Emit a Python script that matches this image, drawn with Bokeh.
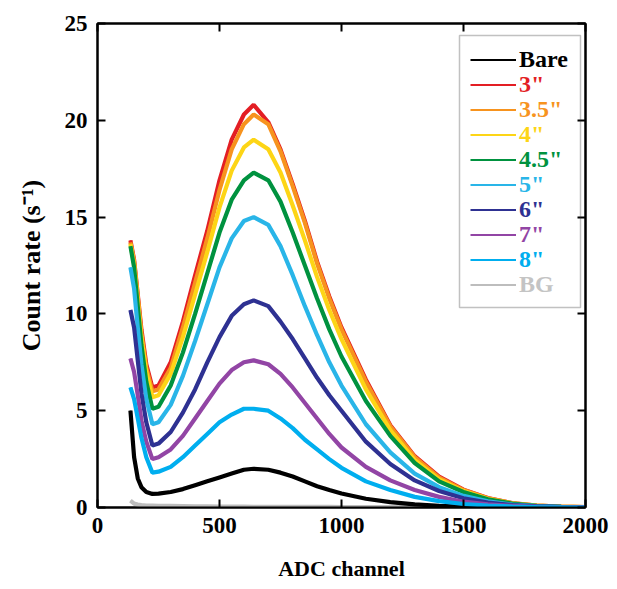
from bokeh.plotting import figure
from bokeh.models import (Range1d, LinearAxis, FixedTicker, Legend, LegendItem,
                          BoxAnnotation, CustomJSTickFormatter, ColumnDataSource)
from bokeh.embed import file_html
from bokeh.resources import INLINE

# ---------------- data ----------------
channels = [135, 150, 165, 180, 200, 225, 250, 300, 350, 400, 450, 500, 550, 600, 640,
            700, 750, 800, 850, 900, 950, 1000, 1100, 1200, 1300, 1400, 1500, 1600,
            1700, 1800, 1900, 2000]

bare = [5.0, 2.6, 1.5, 1.05, 0.8, 0.7, 0.72, 0.8, 0.95, 1.15, 1.35, 1.55, 1.75, 1.95, 2.0,
        1.95, 1.8, 1.6, 1.35, 1.1, 0.9, 0.72, 0.45, 0.28, 0.16, 0.09, 0.05, 0.02, 0.01, 0.0, 0.0, 0.0]
in3 = [13.8, 12.8, 11.0, 9.2, 7.4, 6.2, 6.3, 7.5, 9.6, 12.0, 14.3, 16.9, 19.0, 20.3, 20.8,
       19.9, 18.5, 16.7, 14.8, 12.7, 10.9, 9.3, 6.6, 4.25, 2.65, 1.6, 0.92, 0.49, 0.23, 0.1, 0.05, 0.02]
in35 = [13.7, 12.7, 10.9, 9.0, 7.2, 6.0, 6.1, 7.2, 9.3, 11.6, 13.9, 16.4, 18.5, 19.8, 20.3,
        19.8, 18.4, 16.6, 14.7, 12.6, 10.8, 9.2, 6.5, 4.2, 2.6, 1.55, 0.9, 0.48, 0.22, 0.1, 0.05, 0.02]
in4 = [13.6, 12.6, 10.7, 8.8, 7.0, 5.7, 5.8, 6.9, 8.8, 11.0, 13.2, 15.5, 17.4, 18.6, 19.0,
       18.5, 17.3, 15.6, 13.8, 11.9, 10.2, 8.7, 6.1, 4.0, 2.45, 1.45, 0.85, 0.45, 0.21, 0.1, 0.05, 0.02]
in45 = [13.5, 12.4, 10.4, 8.4, 6.5, 5.1, 5.2, 6.3, 8.0, 10.0, 12.1, 14.2, 15.9, 16.9, 17.3,
        16.9, 15.8, 14.2, 12.5, 10.8, 9.2, 7.8, 5.5, 3.7, 2.3, 1.35, 0.8, 0.42, 0.2, 0.09, 0.04, 0.02]
in5 = [12.4, 11.3, 9.3, 7.4, 5.6, 4.3, 4.4, 5.3, 6.8, 8.6, 10.5, 12.4, 13.9, 14.8, 15.0,
       14.6, 13.5, 12.0, 10.4, 8.9, 7.5, 6.3, 4.3, 2.85, 1.75, 1.05, 0.6, 0.32, 0.15, 0.07, 0.03, 0.01]
in6 = [10.2, 9.3, 7.6, 5.9, 4.4, 3.2, 3.3, 3.9, 4.9, 6.1, 7.5, 8.8, 9.9, 10.5, 10.7,
       10.4, 9.6, 8.7, 7.7, 6.7, 5.8, 5.0, 3.4, 2.25, 1.4, 0.85, 0.48, 0.25, 0.12, 0.06, 0.03, 0.01]
in7 = [7.7, 7.0, 5.8, 4.5, 3.4, 2.5, 2.6, 3.0, 3.7, 4.6, 5.5, 6.4, 7.1, 7.5, 7.6,
       7.4, 6.9, 6.2, 5.4, 4.6, 3.8, 3.1, 2.1, 1.4, 0.9, 0.55, 0.3, 0.16, 0.08, 0.04, 0.02, 0.01]
in8 = [6.2, 5.6, 4.6, 3.6, 2.6, 1.8, 1.85, 2.1, 2.6, 3.2, 3.8, 4.4, 4.8, 5.1, 5.1,
       5.0, 4.6, 4.1, 3.5, 3.0, 2.5, 2.05, 1.35, 0.9, 0.55, 0.33, 0.18, 0.1, 0.05, 0.02, 0.01, 0.0]
bg = [0.35, 0.2, 0.15, 0.12, 0.1, 0.1, 0.09, 0.08, 0.07, 0.06, 0.06, 0.05, 0.05, 0.05, 0.04,
      0.04, 0.04, 0.03, 0.03, 0.03, 0.03, 0.02, 0.02, 0.02, 0.02, 0.01, 0.01, 0.01, 0.01, 0.01, 0.01, 0.01]

labels = ['Bare', '3"', '3.5"', '4"', '4.5"', '5"', '6"', '7"', '8"', 'BG']
series = [bare, in3, in35, in4, in45, in5, in6, in7, in8, bg]
colors = ['#000000', '#e31e24', '#f7931e', '#fdd516', '#00923f', '#29b5e8',
          '#2e3192', '#9245a5', '#00aeef', '#bdbdbd']
text_colors = ['#000000', '#e31e24', '#f7931e', '#fdd516', '#00923f', '#29b5e8',
               '#2e3192', '#9245a5', '#00aeef', '#c4c4c4']

x_ticks = [0, 500, 1000, 1500, 2000]
y_ticks = [0, 5, 10, 15, 20, 25]

FONT = "Liberation Serif"

# ---------------- figure ----------------
p = figure(width=610, height=589, x_range=Range1d(0, 2000), y_range=Range1d(0, 25),
           output_backend="svg", toolbar_location=None,
           min_border_left=97, min_border_right=25, min_border_top=23, min_border_bottom=82)
p.xgrid.grid_line_color = None
p.ygrid.grid_line_color = None
p.outline_line_color = "black"
p.outline_line_width = 2
p.background_fill_color = "white"
p.border_fill_color = "white"

p.xaxis.ticker = FixedTicker(ticks=x_ticks)
p.yaxis.ticker = FixedTicker(ticks=y_ticks)
p.xaxis.axis_label = "ADC channel"
p.yaxis.axis_label = "Count rate (s\u207b\u00b9)"
for ax in (p.xaxis, p.yaxis):
    ax.axis_line_width = 2
    ax.major_tick_in = 8
    ax.major_tick_out = 0
    ax.major_tick_line_width = 2
    ax.minor_tick_in = 0
    ax.minor_tick_out = 0
    ax.major_label_text_font = FONT
    ax.major_label_text_font_style = "bold"
    ax.major_label_text_font_size = "23px"
    ax.major_label_text_color = "black"
    ax.axis_label_text_font = FONT
    ax.axis_label_text_font_style = "bold"
    ax.axis_label_text_color = "black"
p.xaxis.axis_label_text_font_size = "22px"
p.yaxis.axis_label_text_font_size = "26px"
p.xaxis.major_label_standoff = 10
p.yaxis.major_label_standoff = 10
p.xaxis.axis_label_standoff = 20
p.yaxis.axis_label_standoff = 16

# mirror ticks on top and right
for loc, tk in (("above", x_ticks), ("right", y_ticks)):
    ax = LinearAxis(ticker=FixedTicker(ticks=tk),
                    formatter=CustomJSTickFormatter(code="return ''"),
                    axis_line_width=2, major_tick_in=8, major_tick_out=0,
                    major_tick_line_width=2, minor_tick_in=0, minor_tick_out=0,
                    major_label_standoff=0, major_label_text_font_size="1px")
    p.add_layout(ax, loc)

# ---------------- curves ----------------
draw_order = [9, 0, 1, 2, 3, 4, 5, 6, 7, 8]
sources = {i: ColumnDataSource(data=dict(x=channels, y=series[i])) for i in range(len(labels))}

# thin copies (used as legend swatches), drawn first so the thick curves cover them
swatches = {}
for i in draw_order:
    swatches[i] = p.line('x', 'y', source=sources[i], line_color=colors[i], line_width=2)
for i in draw_order:
    p.line('x', 'y', source=sources[i], line_color=colors[i], line_width=4.2)

# ---------------- legend (box + coloured labels) ----------------
fw, fh = 488, 484  # frame size in px
def px_to_x(px):
    return px / fw * 2000
def px_to_y(py):
    return 25 - py / fh * 25

box = BoxAnnotation(left=px_to_x(362), right=px_to_x(483), top=px_to_y(12), bottom=px_to_y(284),
                    fill_alpha=0, line_color="#333333", line_width=1.5)
p.add_layout(box)

for i, lab in enumerate(labels):
    lg = Legend(items=[LegendItem(label=lab, renderers=[swatches[i]])],
                location=(373, 434 - 25 * i),
                padding=0, margin=0, spacing=0,
                glyph_width=46, glyph_height=25, label_height=25, label_standoff=3,
                label_text_font=FONT, label_text_font_style="bold",
                label_text_font_size="24px", label_text_color=text_colors[i],
                border_line_alpha=0, background_fill_alpha=0)
    p.add_layout(lg)

open("out.html", "w").write(file_html(p, INLINE))
